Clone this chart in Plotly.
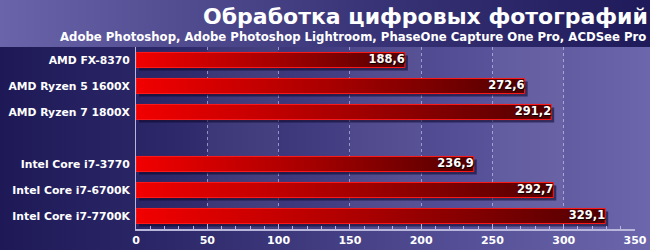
import base64
import plotly.graph_objects as go

# ---- data ----
amd_names = ["AMD FX-8370", "AMD Ryzen 5 1600X", "AMD Ryzen 7 1800X"]
amd_values = [188.6, 272.6, 291.2]
intel_names = ["Intel Core i7-3770", "Intel Core i7-6700K", "Intel Core i7-7700K"]
intel_values = [236.9, 292.7, 329.1]
x_ticks = [0, 50, 100, 150, 200, 250, 300, 350]
title_text = "Обработка цифровых фотографий"
subtitle_text = "Adobe Photoshop, Adobe Photoshop Lightroom, PhaseOne Capture One Pro, ACDSee Pro"

FONT = "DejaVu Sans"

# positions: groups separated by an empty slot
names, values, pos = [], [], []
p = 0
for gnames, gvals in [(amd_names, amd_values), (intel_names, intel_values)]:
    for n, v in zip(gnames, gvals):
        names.append(n); values.append(v); pos.append(p); p += 1
    p += 1
last = max(pos)

# background SVG (header + body gradients)
svg = """<svg xmlns='http://www.w3.org/2000/svg' width='650' height='250' viewBox='0 0 650 250' preserveAspectRatio='none'>
<defs>
<linearGradient id='h' x1='0' y1='0' x2='1' y2='0'>
<stop offset='0' stop-color='#6a64aa'/><stop offset='0.55' stop-color='#3a3578'/><stop offset='1' stop-color='#1f1a5a'/>
</linearGradient>
<linearGradient id='b' x1='0' y1='0' x2='1' y2='0'>
<stop offset='0' stop-color='#1e1956'/><stop offset='0.25' stop-color='#2c2768'/><stop offset='0.7' stop-color='#544e96'/><stop offset='1' stop-color='#6c66ac'/>
</linearGradient>
</defs>
<rect x='0' y='0' width='650' height='47' fill='url(#h)'/>
<rect x='0' y='47' width='650' height='203' fill='url(#b)'/>
</svg>"""
svg_uri = "data:image/svg+xml;base64," + base64.b64encode(svg.encode()).decode()

W, H = 650, 250
L, R, T, B = 136, 15, 47, 21
pw, ph = W - L - R, H - T - B

fig = go.Figure()

half = 0.29
xmax = x_ticks[-1]
px_x = xmax / pw               # data units per px (x)
px_y = (last + 1) / ph         # data units per px (y)

# shadows
for v, y in zip(values, pos):
    dx, dy = 3 * px_x, 3 * px_y
    fig.add_trace(go.Scatter(
        x=[dx, v + dx, v + dx, dx, dx],
        y=[y - half + dy, y - half + dy, y + half + dy, y + half + dy, y - half + dy],
        fill="toself", fillcolor="rgba(10,5,40,0.55)", mode="lines",
        line=dict(width=0), hoverinfo="skip", showlegend=False))

# bars with gradient
for v, y in zip(values, pos):
    fig.add_trace(go.Scatter(
        x=[0, v, v, 0, 0],
        y=[y - half, y - half, y + half, y + half, y - half],
        fill="toself", mode="lines",
        fillgradient=dict(type="horizontal",
                          colorscale=[[0, "#f20000"], [0.5, "#a80000"], [1, "#520000"]]),
        line=dict(color="#ff1a1a", width=1), hoverinfo="skip", showlegend=False))

# value labels
fig.add_trace(go.Scatter(
    x=values, y=pos, mode="text",
    text=[f"{v:.1f}".replace(".", ",") for v in values],
    textposition="middle left",
    textfont=dict(family=FONT, size=11.5, color="white", weight=700,
                  shadow="1px 1px 1px #000"),
    hoverinfo="skip", showlegend=False))

# alternating bands
shapes = []
for i in range(len(x_ticks) - 1):
    if i % 2 == 1:
        shapes.append(dict(type="rect", xref="x", yref="paper",
                           x0=x_ticks[i], x1=x_ticks[i + 1], y0=0, y1=1,
                           fillcolor="rgba(255,255,255,0.05)", line=dict(width=0),
                           layer="below"))

fig.update_layout(
    width=W, height=H,
    margin=dict(l=L, r=R, t=T, b=B, autoexpand=False),
    paper_bgcolor="rgba(0,0,0,0)", plot_bgcolor="rgba(0,0,0,0)",
    images=[dict(source=svg_uri, xref="paper", yref="paper",
                 x=-L / pw, y=1 + T / ph, sizex=W / pw, sizey=H / ph,
                 sizing="stretch", xanchor="left", yanchor="top", layer="below")],
    shapes=shapes,
    xaxis=dict(range=[0, xmax], tickvals=x_ticks, showgrid=True, automargin=False,
               gridcolor="rgba(220,220,255,0.55)", griddash="dot", gridwidth=1,
               showline=True, linecolor="#b9b6dc", linewidth=2,
               ticks="inside", ticklen=5, tickcolor="#b9b6dc",
               minor=dict(dtick=10, ticks="inside", ticklen=3, tickcolor="#b9b6dc", showgrid=False),
               tickfont=dict(family=FONT, size=11, color="white", weight=700),
               zeroline=False, fixedrange=True),
    yaxis=dict(range=[last + 0.5, -0.5], tickvals=pos, ticktext=names, automargin=False,
               showgrid=False, zeroline=False, showline=True,
               linecolor="#b9b6dc", linewidth=1, ticks="", ticklabelstandoff=3,
               tickfont=dict(family=FONT, size=10.8, color="white", weight=700),
               fixedrange=True),
    annotations=[
        dict(text=title_text, xref="paper", yref="paper",
             x=(650 - L) / pw, y=1 + (47 - 17) / ph, xanchor="right", yanchor="middle",
             showarrow=False, font=dict(family=FONT, size=22, color="white", weight=700)),
        dict(text=subtitle_text, xref="paper", yref="paper",
             x=(648 - L) / pw, y=1 + (47 - 37) / ph, xanchor="right", yanchor="middle",
             showarrow=False, font=dict(family=FONT, size=11.7, color="white", weight=700)),
    ],
)

fig.write_html("out.html")
